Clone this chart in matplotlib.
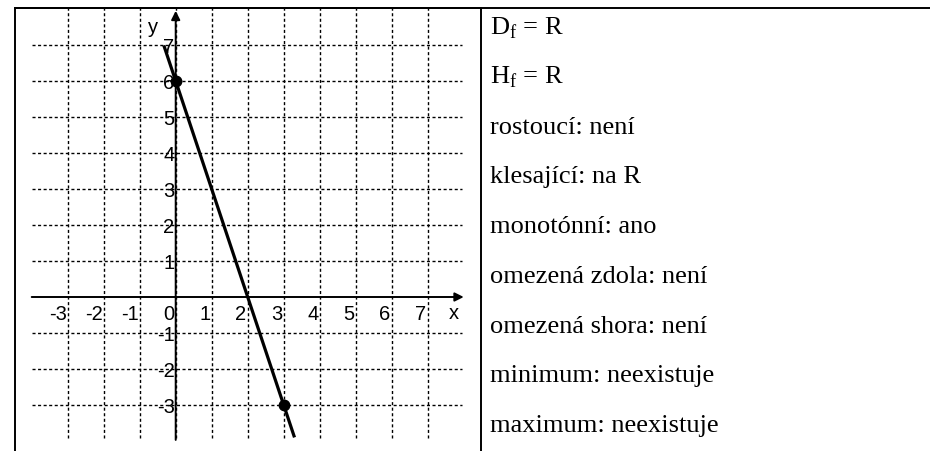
import matplotlib
matplotlib.use("Agg")
import matplotlib.pyplot as plt
from matplotlib.lines import Line2D

plt.rcParams['mathtext.fontset'] = 'custom'
plt.rcParams['mathtext.rm'] = 'Liberation Serif'

# f(x) = 6 - 3x, drawn between two cut-off ends
line_x = [-0.33, 3.3]
line_y = [6.99, -3.9]
points_x = [0, 3]
points_y = [6, -3]

x_ticks = [-3, -2, -1, 0, 1, 2, 3, 4, 5, 6, 7]
y_ticks = [-3, -2, -1, 1, 2, 3, 4, 5, 6, 7]

properties = [
    r'D$_\mathrm{f}$ = R',
    r'H$_\mathrm{f}$ = R',
    'rostoucí: není',
    'klesající: na R',
    'monotónní: ano',
    'omezená zdola: není',
    'omezená shora: není',
    'minimum: neexistuje',
    'maximum: neexistuje',
]

W, H = 930, 451
fig = plt.figure(figsize=(W / 100, H / 100), dpi=100)

# graph panel: pixel box 15..481 wide, 8..451 tall, 36 px per unit
px_unit = 36.0
x0_px, y0_px = 175.7, 297.0
left, right, top, bottom = 15, 481, 8, 451
ax = fig.add_axes([left / W, 1 - bottom / H, (right - left) / W, (bottom - top) / H])
ax.set_xlim((left - x0_px) / px_unit, (right - x0_px) / px_unit)
ax.set_ylim((y0_px - bottom) / px_unit, (y0_px - top) / px_unit)
ax.set_xticks([])
ax.set_yticks([])
ax.spines['bottom'].set_visible(False)
for s in ['left', 'top', 'right']:
    ax.spines[s].set_linewidth(1.4)

grid_kw = dict(color='black', lw=1.0, dashes=(2.2, 1.8), zorder=1)
for gx in x_ticks:
    ax.plot([gx, gx], [-3.92, 8.1], **grid_kw)
for gy in y_ticks:
    ax.plot([-4.0, 7.94], [gy, gy], **grid_kw)

# coordinate axes with arrowheads
arrow = dict(arrowstyle='-|>', color='black', lw=1.4, mutation_scale=13,
             shrinkA=0, shrinkB=0)
ax.annotate('', xy=(8.0, 0), xytext=(-4.0, 0), arrowprops=arrow, zorder=3)
ax.annotate('', xy=(0, 7.95), xytext=(0, -3.97), arrowprops=arrow, zorder=3)

lbl = dict(fontsize=14.5, family='Liberation Sans', color='black', zorder=2)
for tx in x_ticks:
    ax.text(tx - 0.03, -0.5, str(tx), ha='right', va='center', **lbl)
for ty in y_ticks:
    ax.text(-0.03, ty - 0.06, str(ty), ha='right', va='center', **lbl)
ax.text(7.72, -0.45, 'x', ha='center', va='center', **lbl)
ax.text(-0.63, 7.5, 'y', ha='center', va='center', **lbl)

ax.plot(line_x, line_y, color='black', lw=2.3, solid_capstyle='butt', zorder=4)
ax.plot(points_x, points_y, 'o', color='black', ms=7.5, zorder=5)

# top border continues over the text column
fig.add_artist(Line2D([left / W, 1.0], [1 - top / H, 1 - top / H],
                      color='black', lw=1.4))

for i, txt in enumerate(properties):
    base = 34.3 + 49.7 * i
    fig.text(490 / W, 1 - base / H, txt, ha='left', va='baseline',
             fontsize=19, family='Liberation Serif', color='black')

fig.savefig('out.png', dpi=100)
